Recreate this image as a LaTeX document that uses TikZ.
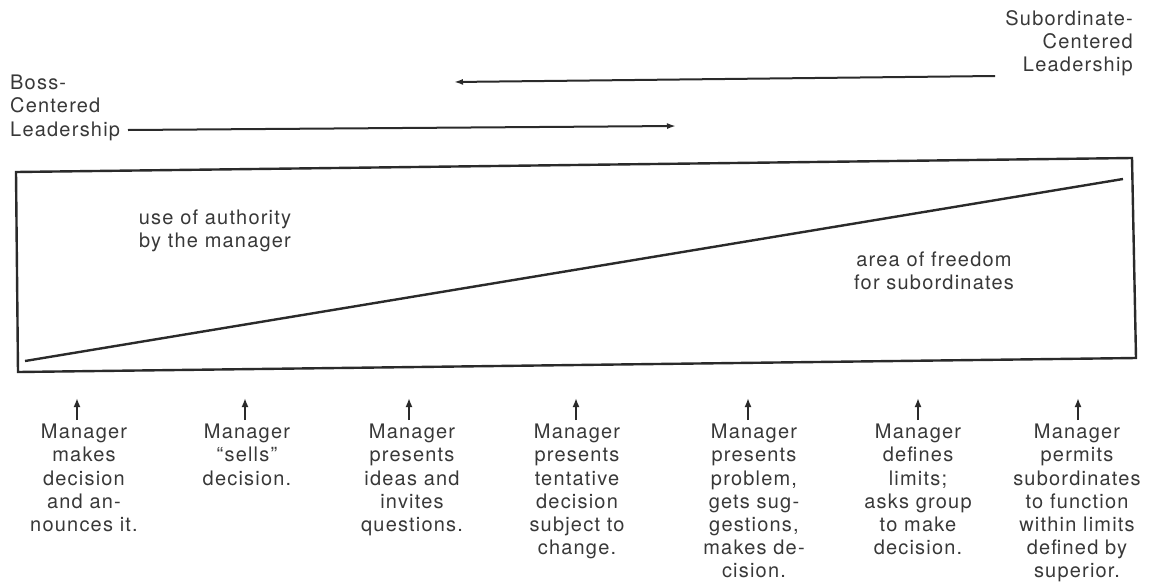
\documentclass[tikz,border=0pt]{standalone}
\usepackage{fontspec}
\setmainfont{TeX Gyre Heros}[LetterSpace=6]
\usetikzlibrary{arrows.meta}
\definecolor{ink}{HTML}{2A2A2A}
\definecolor{txt}{HTML}{383838}
\tikzset{
  lbl/.style={inner sep=0pt, text=txt, font=\fontsize{20}{23.2}\selectfont},
  col/.style={lbl, align=center, anchor=north},
  bigline/.style={draw=ink, line width=2.4pt},
  longarrow/.style={draw=ink, line width=2pt, -{Latex[length=9pt,width=6pt]}},
  uparrow/.style={draw=ink, line width=2.2pt, -{Latex[length=9pt,width=7pt]}}
}
\begin{document}
\begin{tikzpicture}[x=1pt,y=-1pt]
\useasboundingbox (0,0) rectangle (1151,584);
% top labels
\node[lbl, align=left, anchor=north west] (boss) at (10,75) {Boss-\\Centered\\Leadership};
\node[lbl, align=right, anchor=north east] (sub) at (1133,10) {Subordinate-\\Centered\\Leadership};
\coordinate (bs) at (128,130);
\coordinate (be) at (676,126);
\coordinate (ss) at (995,76);
\coordinate (se) at (454,82);
\draw[longarrow] (bs) -- (be);
\draw[longarrow] (ss) -- (se);
% box (slightly skewed, as in the scan)
\coordinate (tl) at (16,172);
\coordinate (tr) at (1132,158);
\coordinate (br) at (1136,358);
\coordinate (bl) at (18,372);
\draw[bigline] (tl) -- (tr) -- (br) -- (bl) -- cycle;
\coordinate (ds) at (25,361);
\coordinate (de) at (1123,179);
\draw[bigline] (ds) -- (de);
\node[lbl, align=center] (auth) at (215,231) {use of authority\\by the manager};
\node[lbl, align=center] (free) at (934,271) {area of freedom\\for subordinates};
% bottom columns
\node[col] (c1) at (84,424) {Manager\\makes\\decision\\and an-\\nounces it.};
\node[col] (c2) at (247,424) {Manager\\“sells”\\decision.};
\node[col] (c3) at (412,424) {Manager\\presents\\ideas and\\invites\\questions.};
\node[col] (c4) at (577,424) {Manager\\presents\\tentative\\decision\\subject to\\change.};
\node[col] (c5) at (754,424) {Manager\\presents\\problem,\\gets sug-\\gestions,\\makes de-\\cision.};
\node[col] (c6) at (918,424) {Manager\\defines\\limits;\\asks group\\to make\\decision.};
\node[col] (c7) at (1077,424) {Manager\\permits\\subordinates\\to function\\within limits\\defined by\\superior.};
\foreach \i/\x in {1/77,2/245,3/409,4/576,5/748,6/918,7/1078}{
  \coordinate (a\i b) at (\x,420);
  \coordinate (a\i t) at (\x,398);
  \draw[uparrow] (a\i b) -- (a\i t);
}
\end{tikzpicture}
\end{document}
